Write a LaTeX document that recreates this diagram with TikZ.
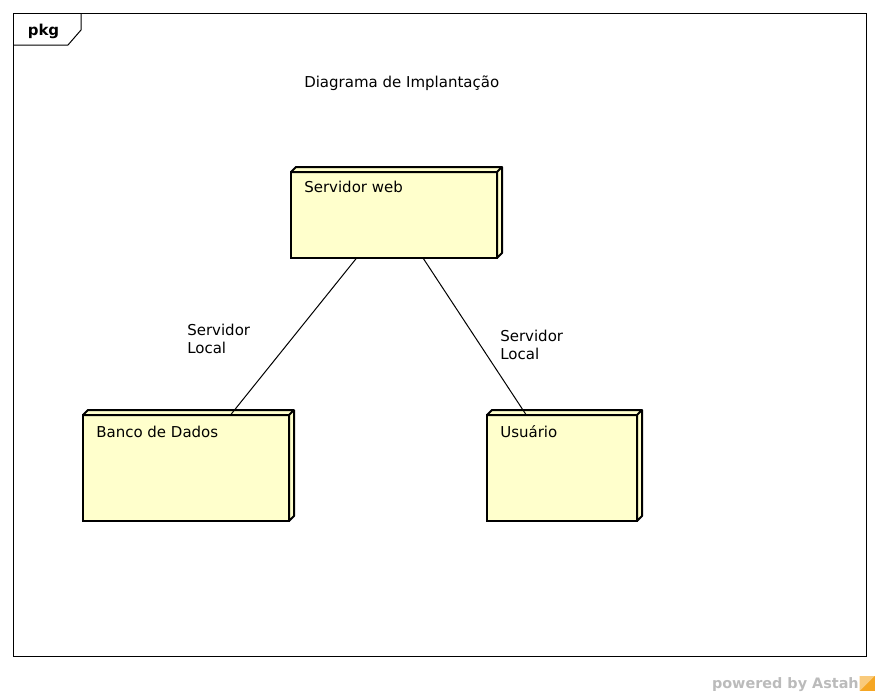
\documentclass[tikz,border=0pt]{standalone}
\usepackage{fontspec}
\setmainfont{DejaVu Sans}
\usetikzlibrary{positioning}

\definecolor{devfill}{HTML}{FFFFCC}
\definecolor{astahgray}{HTML}{BBBBBB}
\definecolor{astahorange}{HTML}{F5A623}

\tikzset{
  device/.style={draw, line width=1.5pt, fill=devfill, anchor=north west,
    inner sep=0pt, outer sep=0pt, minimum width=154.5pt},
  devtext/.style={anchor=base west, inner sep=0pt},
  linklabel/.style={anchor=base west, inner sep=0pt, align=left},
  link/.style={line width=0.75pt}
}

\begin{document}
\begin{tikzpicture}[x=0.75pt, y=-0.75pt, font=\fontsize{11.25}{13.5}\selectfont]
  \useasboundingbox (0,0) rectangle (880,696);

  % frame and tab
  \node[draw, line width=0.75pt, anchor=north west, inner sep=0pt, outer sep=0pt,
    minimum width=639.75pt, minimum height=482.25pt] (frame) at (13,13) {};
  \draw[line width=0.75pt] ([xshift=51pt]frame.north west) -- ++(0,17) -- ++(-13,15) -- ([yshift=-24pt]frame.north west);
  \node[font=\fontsize{11.25}{13.5}\selectfont\bfseries, anchor=base] (pkg) at (43.5,35) {pkg};

  \node[anchor=base west, inner sep=0pt] (title) at (304,87) {Diagrama de Implantação};

  % devices
  \node[device, minimum height=64.5pt] (web) at (291,172) {};
  \node[device, minimum height=79.5pt] (db) at (83,415) {};
  \node[device, minimum height=79.5pt, minimum width=112.5pt] (user) at (487,415) {};

  \foreach \n in {web,db,user}
    \filldraw[line width=1.5pt, fill=devfill, line join=round]
      (\n.north west) -- ++(5,-5) -- ([shift={(5,-5)}]\n.north east)
      -- ([shift={(5,-5)}]\n.south east) -- (\n.south east) -- (\n.north east) -- cycle
      (\n.north east) -- ++(5,-5);

  \node[devtext] (webtxt) at ([shift={(13,20.5)}]web.north west) {Servidor web};
  \node[devtext] (dbtxt) at ([shift={(13,22)}]db.north west) {Banco de Dados};
  \node[devtext] (usertxt) at ([shift={(13,22)}]user.north west) {Usuário};

  % links
  \draw[link] (web.229) -- (db.50);
  \draw[link] (web.304) -- (user.124);
  \node[linklabel] (lblL) at (187,353) {Servidor\\Local};
  \node[linklabel] (lblR) at (500,359) {Servidor\\Local};

  % footer
  \node[anchor=base east, inner sep=0pt, text=astahgray,
    font=\fontsize{10.8}{13}\selectfont\bfseries] (powered) at (859,688) {powered by Astah};
  \fill[astahorange] ([xshift=0.5pt]powered.base east) ++(0,3) rectangle ++(15,-15);
  \fill[astahorange!60!white] ([xshift=0.5pt]powered.base east) ++(0,3) -- ++(15,-15) -- ++(-15,0) -- cycle;
\end{tikzpicture}
\end{document}
